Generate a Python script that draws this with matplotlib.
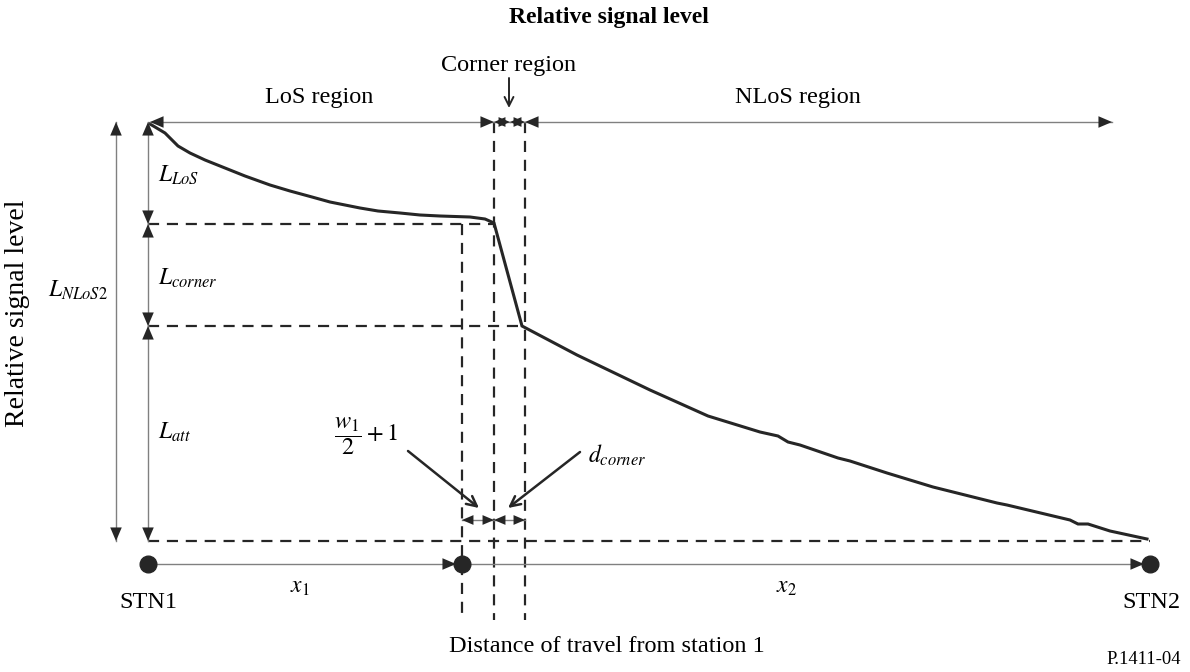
import numpy as np
import matplotlib.pyplot as plt

plt.rcParams['font.family'] = ['Liberation Serif', 'DejaVu Serif']
plt.rcParams['mathtext.fontset'] = 'stix'

# diagram laid out in a 1190 x 672 pixel-like space (y grows downward)
top_y = 122
los_y = 224
corner_y = 326
bottom_y = 541
axis_y = 564
stn1_x = 148
stn2_x = 1150
x_w = 462
x_c1 = 494
x_c2 = 525

# signal level curve
curve_x = [150, 155, 165, 178, 190, 205, 225, 245, 270, 290, 312, 330, 345, 360, 378, 400,
           420, 440, 470, 485, 494, 522, 577, 650, 708, 760, 778, 788, 800, 838, 850,
           887, 933, 997, 1007, 1070, 1078, 1088, 1110, 1147]
curve_y = [124, 127, 133, 146, 153, 160, 168, 176, 185, 191, 197, 202, 205, 208, 211, 213,
           215, 216, 217, 219, 223, 326, 355, 390, 416, 432, 436, 442, 445, 458, 461,
           473, 487, 503, 505, 520, 524, 524, 531, 539]

fig = plt.figure(figsize=(11.9, 6.72), dpi=100)
ax = fig.add_axes([0, 0, 1, 1])
ax.set_xlim(0, 1190)
ax.set_ylim(672, 0)
ax.axis('off')

gray = '#808080'
dark = '#262626'
dash = dict(color=dark, lw=1.6, ls=(0, (5, 3.5)))


def heads(x0, y0, x1, y1, style, ms):
    # filled dark heads only, the shaft is drawn separately in gray
    ax.plot([x0, x1], [y0, y1], color=gray, lw=1.0)
    ax.annotate('', xy=(x1, y1), xytext=(x0, y0),
                arrowprops=dict(arrowstyle=style + ',head_length=0.75,head_width=0.32',
                                lw=0, mutation_scale=ms, shrinkA=0, shrinkB=0,
                                edgecolor='none', facecolor=dark))


def dbl(x0, y0, x1, y1, ms=13):
    heads(x0, y0, x1, y1, '<|-|>', ms)


def one(x0, y0, x1, y1, ms=13):
    heads(x0, y0, x1, y1, '-|>', ms)


def pointer(x0, y0, x1, y1, lw=1.8, ms=18):
    ax.annotate('', xy=(x1, y1), xytext=(x0, y0),
                arrowprops=dict(arrowstyle='->', lw=lw, mutation_scale=ms,
                                shrinkA=0, shrinkB=0, color=dark))


# dashed guide lines
ax.plot([stn1_x, x_c1], [los_y, los_y], **dash)
ax.plot([stn1_x, x_c2], [corner_y, corner_y], **dash)
ax.plot([stn1_x, stn2_x], [bottom_y, bottom_y], **dash)
ax.plot([x_w, x_w], [los_y, 620], **dash)
ax.plot([x_c1, x_c1], [top_y, 620], **dash)
ax.plot([x_c2, x_c2], [top_y, 620], **dash)

# curve
ax.plot(curve_x, curve_y, color=dark, lw=2.2, solid_joinstyle='miter')

# vertical dimension arrows
dbl(116, top_y, 116, bottom_y)
dbl(stn1_x, top_y, stn1_x, los_y)
dbl(stn1_x, los_y, stn1_x, corner_y)
dbl(stn1_x, corner_y, stn1_x, bottom_y)

# top region arrows
dbl(stn1_x + 2, top_y, x_c1, top_y)
dbl(x_c1, top_y, 510, top_y, ms=11)
dbl(510, top_y, x_c2, top_y, ms=11)
dbl(x_c2, top_y, 1112, top_y)

# small width arrows near the bottom
dbl(x_w, 520, x_c1, 520, ms=11)
dbl(x_c1, 520, x_c2, 520, ms=11)

# distance axis
one(stn1_x, axis_y, x_w - 6, axis_y)
one(x_w, axis_y, stn2_x - 6, axis_y)
ax.plot([stn1_x, x_w, stn2_x], [axis_y] * 3, 'o', color=dark, ms=12)

# pointer arrows
pointer(509, 78, 509, 108, lw=1.4, ms=16)
pointer(408, 451, 479, 508)
pointer(580, 452, 508, 508)

fs = 17.5
ax.text(609, 18, 'Relative signal level', fontsize=17, fontweight='bold', ha='center', va='center')
ax.text(509, 65, 'Corner region', fontsize=fs, ha='center', va='center')
ax.text(319, 97, 'LoS region', fontsize=fs, ha='center', va='center')
ax.text(798, 97, 'NLoS region', fontsize=fs, ha='center', va='center')
ax.text(18, 313, 'Relative signal level', fontsize=20, rotation=90, ha='center', va='center')
ax.text(48, 290, r'$L_{NLoS2}$', fontsize=17, ha='left', va='center')
ax.text(158, 175, r'$L_{LoS}$', fontsize=17, ha='left', va='center')
ax.text(158, 278, r'$L_{corner}$', fontsize=17, ha='left', va='center')
ax.text(158, 432, r'$L_{att}$', fontsize=17, ha='left', va='center')
ax.text(366, 436, r'$\dfrac{w_1}{2}+1$', fontsize=17.5, ha='center', va='center')
ax.text(588, 455, r'$d_{corner}$', fontsize=17, ha='left', va='center')
ax.text(300, 588, r'$x_1$', fontsize=17, ha='center', va='center')
ax.text(786, 588, r'$x_2$', fontsize=17, ha='center', va='center')
ax.text(stn1_x, 602, 'STN1', fontsize=fs, ha='center', va='center')
ax.text(1151, 602, 'STN2', fontsize=fs, ha='center', va='center')
ax.text(607, 646, 'Distance of travel from station 1', fontsize=fs, ha='center', va='center')
ax.text(1181, 660, 'P.1411-04', fontsize=13.4, ha='right', va='center')

fig.savefig('out.png', dpi=100, facecolor='white')
